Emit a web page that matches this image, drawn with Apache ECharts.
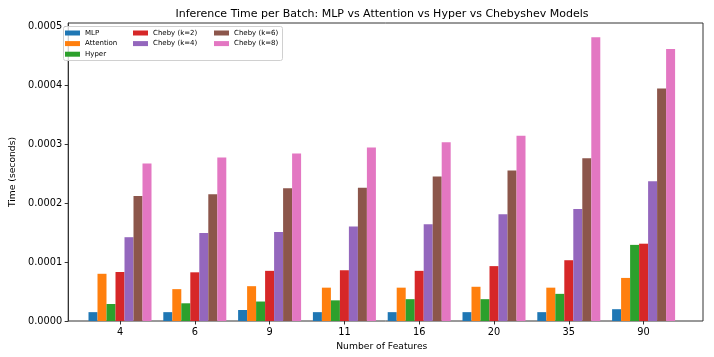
<!DOCTYPE html>
<html>
<head>
<meta charset="utf-8">
<script src="https://cdn.jsdelivr.net/npm/echarts@6/dist/echarts.min.js"></script>
<style>
  html, body { margin: 0; padding: 0; background: #fff; }
  #chart { width: 714px; height: 357px; }
</style>
</head>
<body>
<div id="chart"></div>
<script>
const features = ['4', '6', '9', '11', '16', '20', '35', '90']
const seriesNames = ['MLP', 'Attention', 'Hyper', 'Cheby (k=2)', 'Cheby (k=4)', 'Cheby (k=6)', 'Cheby (k=8)']
const colors = ['#1f77b4', '#ff7f0e', '#2ca02c', '#d62728', '#9467bd', '#8c564b', '#e377c2']

// inference time (seconds), one array per model
const mlp = [0.000015, 0.000015, 0.0000186, 0.000015, 0.000015, 0.000015, 0.000015, 0.00002]
const attention = [0.00008, 0.000054, 0.000059, 0.0000565, 0.0000565, 0.000058, 0.0000565, 0.000073]
const hyper = [0.0000288, 0.00003, 0.000033, 0.000035, 0.000037, 0.000037, 0.000046, 0.000129]
const chebyK2 = [0.000083, 0.0000825, 0.000085, 0.000086, 0.000085, 0.000093, 0.000103, 0.000131]
const chebyK4 = [0.000142, 0.000149, 0.000151, 0.00016, 0.000164, 0.000181, 0.00019, 0.000237]
const chebyK6 = [0.000212, 0.000215, 0.000225, 0.000226, 0.000245, 0.000255, 0.000276, 0.000394]
const chebyK8 = [0.000267, 0.000277, 0.000284, 0.000294, 0.000303, 0.000314, 0.000481, 0.000461]

const values = [mlp, attention, hyper, chebyK2, chebyK4, chebyK6, chebyK8]
const yTicks = { min: 0, max: 0.000505, interval: 0.0001 }

const font = 'DejaVu Sans'
const chart = echarts.init(document.getElementById('chart'), null, { renderer: 'canvas' })

const legendBase = {
    orient: 'vertical',
    top: 29,
    padding: 0,
    itemWidth: 15,
    itemHeight: 5,
    itemGap: 2.6,
    icon: 'rect',
    selectedMode: false,
    z: 10,
    textStyle: { fontFamily: font, fontSize: 7, color: '#000', lineHeight: 8 }
}

chart.setOption({
    animation: false,
    color: colors,
    title: {
        text: 'Inference Time per Batch: MLP vs Attention vs Hyper vs Chebyshev Models',
        left: 382,
        textAlign: 'center',
        top: 8.5,
        padding: 0,
        textStyle: { fontFamily: font, fontSize: 11, fontWeight: 'normal', color: '#000' }
    },
    graphic: [{
        type: 'rect',
        shape: { x: 63.5, y: 26.5, width: 219, height: 34, r: 2 },
        style: { fill: 'rgba(255,255,255,0.8)', stroke: '#d0d0d0', lineWidth: 1 },
        z: 3
    }],
    legend: [
        Object.assign({}, legendBase, { left: 65, data: seriesNames.slice(0, 3) }),
        Object.assign({}, legendBase, { left: 133, data: seriesNames.slice(3, 5) }),
        Object.assign({}, legendBase, { left: 214, data: seriesNames.slice(5, 7) })
    ],
    grid: [
        // outer frame of the axes
        { left: 61, top: 23, width: 642, height: 298, show: true, borderColor: '#333', borderWidth: 1, backgroundColor: 'transparent' },
        // bar area, sized so groups land where matplotlib puts them
        { left: 82.6, top: 23, width: 598.4, height: 298 }
    ],
    xAxis: [
        { gridIndex: 0, type: 'value', min: 0, max: 1, show: false },
        {
            gridIndex: 1,
            type: 'category',
            data: features,
            axisLine: { show: false },
            axisTick: { show: true, alignWithLabel: true, length: 3.5, lineStyle: { color: '#333' } },
            axisLabel: { fontFamily: font, fontSize: 9.8, color: '#000', margin: 6 },
            name: 'Number of Features',
            nameLocation: 'middle',
            nameGap: 18,
            nameTextStyle: { fontFamily: font, fontSize: 9.2, color: '#000' }
        }
    ],
    yAxis: [
        {
            gridIndex: 0,
            type: 'value',
            min: yTicks.min,
            max: yTicks.max,
            interval: yTicks.interval,
            axisLine: { show: true, lineStyle: { color: '#333' } },
            axisTick: { show: true, length: 3.5, lineStyle: { color: '#333' } },
            splitLine: { show: false },
            axisLabel: {
                fontFamily: font, fontSize: 9.8, color: '#000', margin: 6,
                formatter: v => v.toFixed(4),
                showMaxLabel: false
            },
            name: 'Time (seconds)',
            nameLocation: 'middle',
            nameGap: 38,
            nameTextStyle: { fontFamily: font, fontSize: 9.2, color: '#000' }
        },
        { gridIndex: 1, type: 'value', min: yTicks.min, max: yTicks.max, show: false }
    ],
    series: seriesNames.map((name, i) => ({
        name: name,
        type: 'bar',
        xAxisIndex: 1,
        yAxisIndex: 1,
        barWidth: 9,
        barGap: '0%',
        data: values[i]
    }))
})
</script>
</body>
</html>
